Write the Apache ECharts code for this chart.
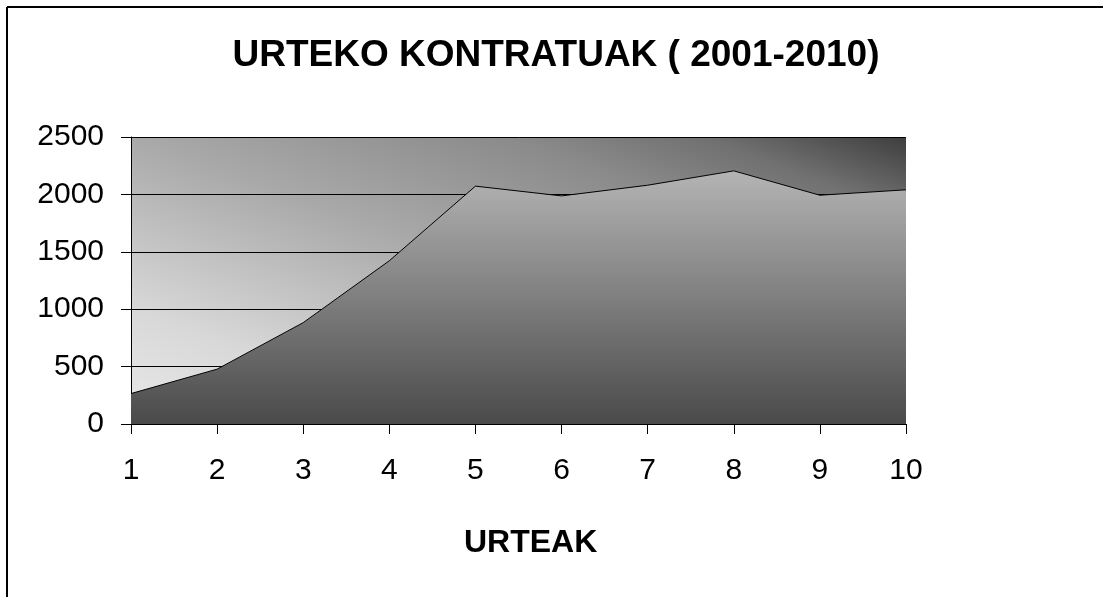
<!DOCTYPE html>
<html>
<head>
<meta charset="utf-8">
<script src="https://cdn.jsdelivr.net/npm/echarts@6/dist/echarts.min.js"></script>
<style>
  html, body { margin: 0; padding: 0; background: #fff; }
  #chart { width: 1103px; height: 597px; }
</style>
</head>
<body>
<div id="chart"></div>
<script>
// urteak (1..10) eta kontratuak
var urteak = ['1', '2', '3', '4', '5', '6', '7', '8', '9', '10'];
var kontratuak = [265, 478, 883, 1422, 2072, 1987, 2080, 2205, 1993, 2040];
var yMax = 2500;
var yStep = 500;

var myChart = echarts.init(document.getElementById('chart'));
var fnt = '"Liberation Sans", Arial, sans-serif';

// plot area: 131..906 x 137..424, gradient lines parallel to the TL-BR diagonal
var bgGradient = new echarts.graphic.LinearGradient(131, 424, 318, -81, [
    { offset: 0, color: '#e9e9e9' },
    { offset: 0.2, color: '#d8d8d8' },
    { offset: 0.5, color: '#a9a9a9' },
    { offset: 0.74, color: '#8b8b8b' },
    { offset: 0.87, color: '#707070' },
    { offset: 1, color: '#3e3e3e' }
], true);

var option = {
    backgroundColor: '#fff',
    animation: false,
    title: {
        text: 'URTEKO KONTRATUAK ( 2001-2010)',
        left: 551,
        textAlign: 'center',
        top: 32,
        textStyle: { fontFamily: fnt, fontSize: 37, fontWeight: 'bold', color: '#000' }
    },
    grid: {
        left: 131,
        right: 197,
        top: 137,
        bottom: 173,
        show: true,
        borderWidth: 0,
        backgroundColor: bgGradient
    },
    xAxis: {
        type: 'category',
        boundaryGap: false,
        data: urteak,
        axisLine: { lineStyle: { color: '#000', width: 1 } },
        axisTick: { show: true, length: 10, inside: false, lineStyle: { color: '#000' } },
        axisLabel: { margin: 32, fontFamily: fnt, fontSize: 30, color: '#000' },
        splitLine: { show: false }
    },
    yAxis: {
        type: 'value',
        min: 0,
        max: yMax,
        interval: yStep,
        axisLine: { show: true, lineStyle: { color: '#000', width: 1 } },
        axisTick: { show: true, length: 10, lineStyle: { color: '#000' } },
        axisLabel: {
            margin: 27, fontFamily: fnt, fontSize: 30, color: '#000',
            formatter: function (v) { return String(v); }
        },
        splitLine: { show: true, lineStyle: { color: '#000', width: 1 } }
    },
    graphic: [
        {
            type: 'text',
            left: 464,
            top: 527,
            style: { text: 'URTEAK', font: 'bold 32px ' + fnt, fill: '#000' }
        },
        {
            type: 'line',
            shape: { x1: 7, y1: 7, x2: 1103, y2: 7 },
            style: { stroke: '#000', lineWidth: 2 }
        },
        {
            type: 'line',
            shape: { x1: 7, y1: 7, x2: 7, y2: 597 },
            style: { stroke: '#000', lineWidth: 2 }
        }
    ],
    series: [
        {
            type: 'line',
            data: kontratuak,
            symbol: 'none',
            lineStyle: { color: '#000', width: 1 },
            areaStyle: {
                opacity: 1,
                color: new echarts.graphic.LinearGradient(0, 0, 0, 1, [
                    { offset: 0, color: '#b4b4b4' },
                    { offset: 1, color: '#4a4a4a' }
                ])
            },
            z: 3
        }
    ]
};

myChart.setOption(option);
</script>
</body>
</html>
